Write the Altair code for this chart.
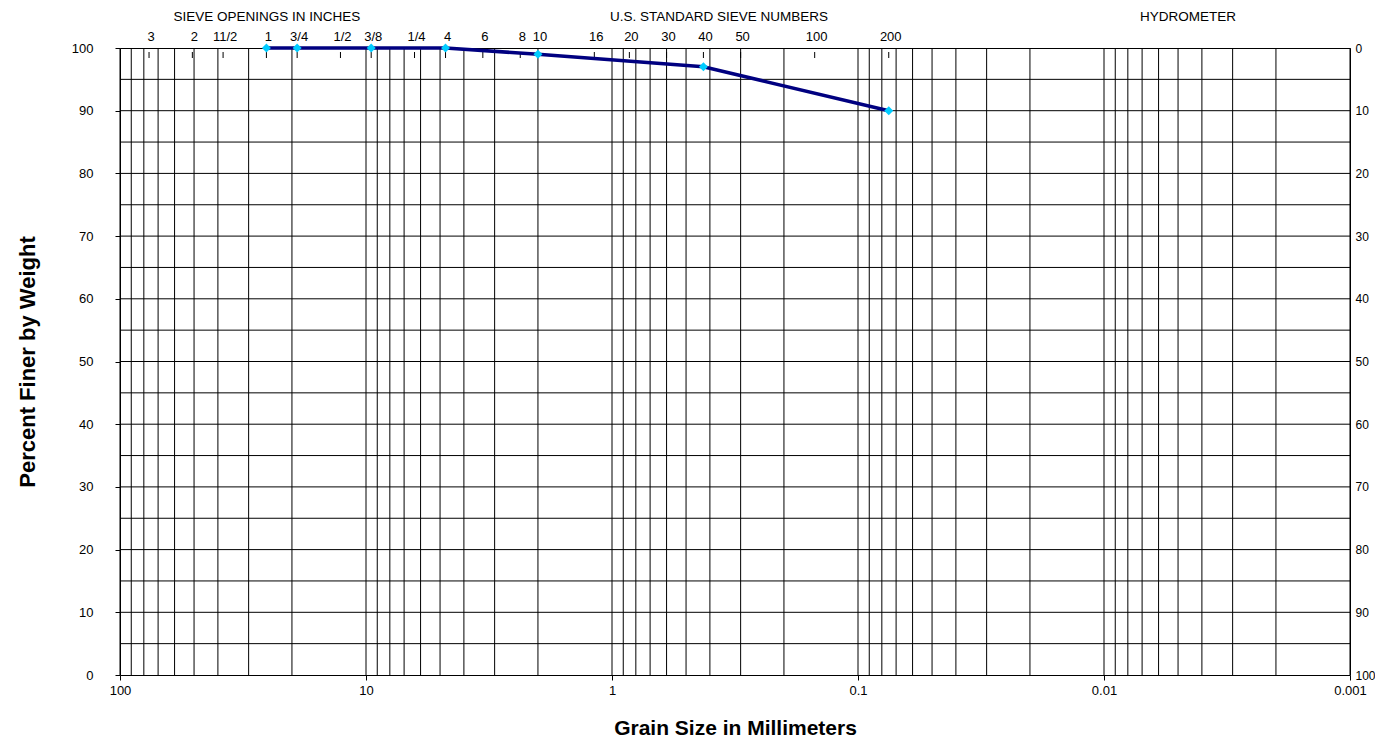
import altair as alt
import pandas as pd

# Measured gradation data
sizes = [25.4, 19.05, 9.525, 4.75, 2.0, 0.425, 0.075]
finer = [100, 100, 100, 100, 99, 97, 90]

# Sieve openings in inches (label, size in mm)
inch_labels = ["3", "2", "11/2", "1", "3/4", "1/2", "3/8", "1/4"]
inch_sizes = [76.2, 50.8, 38.1, 25.4, 19.05, 12.7, 9.525, 6.35]

# U.S. standard sieve numbers (label, size in mm)
sieve_labels = ["4", "6", "8", "10", "16", "20", "30", "40", "50", "100", "200"]
sieve_sizes = [4.75, 3.35, 2.36, 2.0, 1.18, 0.85, 0.6, 0.425, 0.3, 0.15, 0.075]

# Header texts and their grain-size anchor
headers = ["SIEVE OPENINGS IN INCHES", "U.S. STANDARD SIEVE NUMBERS", "HYDROMETER"]
header_pos = [25.3, 0.367, 0.00456]

# Axis values
decades = [100, 10, 1, 0.1, 0.01, 0.001]
multipliers = [1, 2, 3, 4, 5, 6, 7, 8, 9]
exponents = [-3, -2, -1, 0, 1]
grid_x = [m * 10.0 ** e for e in exponents for m in multipliers] + [100]
grid_y = [5, 10, 15, 20, 25, 30, 35, 40, 45, 50, 55, 60, 65, 70, 75, 80, 85, 90, 95]
left_ticks = [0, 10, 20, 30, 40, 50, 60, 70, 80, 90, 100]
right_ticks = [0, 10, 20, 30, 40, 50, 60, 70, 80, 90, 100]

FONT = "Liberation Sans"
W, H = 1230, 627

xscale = alt.Scale(type="log", domain=[0.001, 100], reverse=True)
yscale = alt.Scale(domain=[0, 100], nice=False)

data = pd.DataFrame({"size": sizes, "finer": finer})
gx = pd.DataFrame({"g": grid_x})
gy = pd.DataFrame({"g": grid_y})
sieves = pd.DataFrame({"size": inch_sizes + sieve_sizes, "label": inch_labels + sieve_labels})
hdr = pd.DataFrame({"size": header_pos, "label": headers})

vgrid = alt.Chart(gx).mark_rule(color="black", strokeWidth=1).encode(
    x=alt.X("g:Q", scale=xscale,
            axis=alt.Axis(values=decades, labelExpr="format(datum.value, '~g')",
                          title="Grain Size in Millimeters", grid=False,
                          tickSize=5, tickColor="black", domain=False,
                          labelFlush=False, labelOverlap=False,
                          labelPadding=4, labelFontSize=13, labelFont=FONT,
                          labelColor="black",
                          titleFont=FONT, titleFontSize=21, titleFontWeight="bold",
                          titleColor="black", titleY=59, titleBaseline="alphabetic")),
    y=alt.value(0), y2=alt.value(H),
)

hgrid = alt.Chart(gy).mark_rule(color="black", strokeWidth=1).encode(
    y=alt.Y("g:Q", scale=yscale,
            axis=alt.Axis(values=left_ticks, title="Percent Finer by Weight",
                          grid=False, domain=False, tickSize=5, tickColor="black",
                          labelFlush=False, labelOverlap=False,
                          labelPadding=22, labelFontSize=13, labelFont=FONT,
                          labelColor="black",
                          titleFont=FONT, titleFontSize=22, titleFontWeight="bold",
                          titleColor="black", titleX=-93, titleY=H / 2,
                          titleBaseline="middle", titleAngle=-90)),
    x=alt.value(0), x2=alt.value(W),
)

sieve_ticks = alt.Chart(sieves).mark_rule(color="black", strokeWidth=1).encode(
    x=alt.X("size:Q", scale=xscale),
    y=alt.value(4), y2=alt.value(10),
)

sieve_text = alt.Chart(sieves).mark_text(font=FONT, fontSize=13, color="black",
                                         baseline="middle", dx=2).encode(
    x=alt.X("size:Q", scale=xscale),
    y=alt.value(-11),
    text="label:N",
)

hdr_text = alt.Chart(hdr).mark_text(font=FONT, fontSize=13.5, color="black",
                                    baseline="middle").encode(
    x=alt.X("size:Q", scale=xscale),
    y=alt.value(-31),
    text="label:N",
)

line = alt.Chart(data).mark_line(color="#000080", strokeWidth=3.5).encode(
    x=alt.X("size:Q", scale=xscale),
    y=alt.Y("finer:Q", scale=yscale),
)

pts = alt.Chart(data).mark_point(shape="diamond", filled=True, color="#00CCFF",
                                 size=80, opacity=1).encode(
    x=alt.X("size:Q", scale=xscale),
    y=alt.Y("finer:Q", scale=yscale),
)

right = alt.Chart(pd.DataFrame({"r": right_ticks})).mark_point(opacity=0).encode(
    y=alt.Y("r:Q", scale=alt.Scale(domain=[0, 100], reverse=True, nice=False),
            axis=alt.Axis(orient="right", values=right_ticks, title=None,
                          grid=False, domain=False, ticks=False, labelPadding=5,
                          labelFlush=False, labelOverlap=False,
                          labelFontSize=12, labelFont=FONT, labelColor="black")),
)

main = alt.layer(vgrid, hgrid, sieve_ticks, sieve_text, hdr_text, line, pts)

chart = alt.layer(main, right).resolve_scale(y="independent").properties(
    width=W, height=H,
    autosize=alt.AutoSizeParams(type="none"),
    padding={"left": 112, "top": 40, "right": 25, "bottom": 64},
    background="white",
).configure_view(stroke="black", strokeWidth=1)

chart.save("out.html", embed_options={"renderer": "svg", "actions": False})
